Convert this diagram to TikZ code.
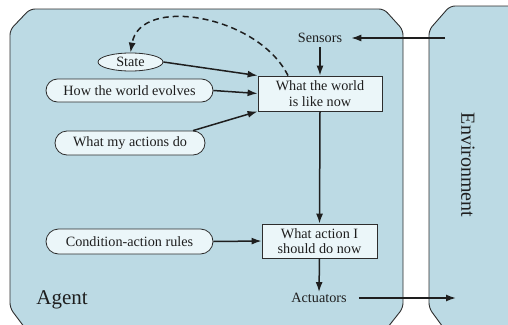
\documentclass[tikz,border=0pt]{standalone}
\usepackage{fontspec}
\setmainfont{Liberation Serif}
\usetikzlibrary{shapes.misc,shapes.geometric,arrows.meta}
\definecolor{panel}{RGB}{188,218,228}
\definecolor{boxfill}{RGB}{235,246,249}
\definecolor{edge}{RGB}{45,45,45}
\definecolor{ink}{RGB}{30,30,30}
\begin{document}
\begin{tikzpicture}[x=1pt,y=-1pt,
  every node/.style={text=ink,font=\fontsize{14.2}{15.5}\selectfont},
  panelshape/.style={fill=panel,draw=edge,line width=0.9pt,rounded corners=5pt},
  oval/.style={rounded rectangle,draw=edge,fill=boxfill,line width=0.8pt,inner sep=0pt,minimum height=24pt},
  rectbox/.style={rectangle,draw=edge,fill=boxfill,line width=0.8pt,inner sep=0pt,align=center},
  plain/.style={inner sep=1pt},
  flow/.style={draw=ink,line width=1.5pt,-{Latex[length=10pt,width=7pt]}},
  memory/.style={flow,dash pattern=on 6pt off 4pt}]
\useasboundingbox (0,0) rectangle (508,324);

% agent and environment panels
\path[panelshape] (10,30) -- (10,308) -- (28,332) -- (384,332) -- (403,308)
  -- (403,30) -- (384,9) -- (30,9) -- cycle;
\path[panelshape] (429,30) -- (429,308) -- (448,334) -- (520,334) -- (520,6)
  -- (490,6) -- (450,6) -- cycle;

\node[font=\fontsize{21}{21}\selectfont] (agent) at (62,300) {Agent};
\node[rotate=-90,font=\fontsize{20}{20}\selectfont] (env) at (468,165) {Environment};

% percepts and actions
\node[plain] (sensors) at (320,38) {Sensors};
\node[plain] (actuators) at (319,298) {Actuators};
\coordinate (envin) at (445,38);
\coordinate (envout) at (456,298);

% internal state and knowledge
\node[ellipse,draw=edge,fill=boxfill,line width=0.8pt,inner sep=0pt,
  minimum width=65pt,minimum height=18pt] (state) at (130.5,62) {State};
\node[oval,minimum width=167pt,minimum height=23pt] (evolve) at (129.5,90.5) {How the world evolves};
\node[oval,minimum width=150pt] (actions) at (130,143) {What my actions do};
\node[oval,minimum width=167pt,minimum height=25pt] (rules) at (129.5,241.5) {Condition-action rules};

\node[rectbox,minimum width=124pt,minimum height=35pt] (world) at (320,93.5)
  {What the world\\is like now};
\node[rectbox,minimum width=115pt,minimum height=34pt] (decide) at (319.5,241)
  {What action I\\should do now};

% connectors
\draw[flow,shorten >=8pt] (envin) -- (sensors.east);
\draw[flow,shorten <=3pt] (sensors) -- (world.north);
\draw[flow] (state.east) -- (world.north west);
\draw[flow] (evolve.east) -- (world.west);
\draw[flow] (actions.north east) -- (world.south west);
\draw[flow] (world.south) -- (decide.north);
\draw[flow] (rules.east) -- (decide.west);
\draw[flow] (decide.south) -- (actuators.north);
\draw[flow,shorten <=11pt] (actuators.east) -- (envout);
\draw[memory] ([xshift=-32pt]world.north) .. controls (258,15) and (140,-5) .. (state.north);
\end{tikzpicture}
\end{document}
